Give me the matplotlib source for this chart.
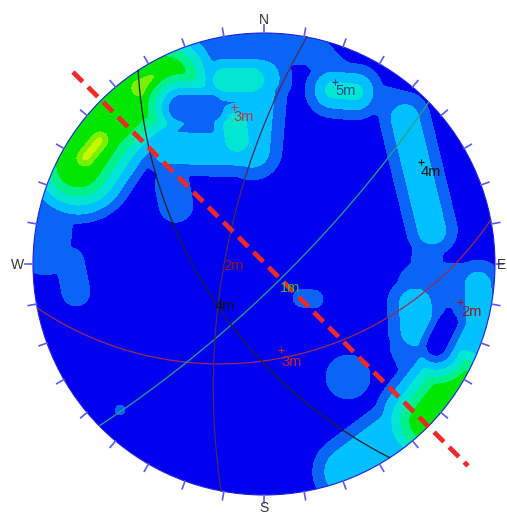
import numpy as np
import matplotlib
matplotlib.use("Agg")
import matplotlib.pyplot as plt
from matplotlib.patches import Circle

# pole-density ridges read off the net (x = east, y = north, primitive radius = 1)
# segment start / end, reach of the lowest contour, spacing between contours, top level
ridge_x1 = [-0.803, -0.697, -0.585, -0.775, -0.537, -0.926, -0.840, -0.364,
            -0.385, -0.026, -0.416, -0.169, -0.126, -0.398,
            0.177, 0.286, 0.459, 0.632, 0.697, 0.719, 0.299, 0.610,
            0.675, 0.632, 0.632, 0.654, 0.926,
            0.899, 0.764, 0.831, 0.351, 0.364, 0.165, -0.623]
ridge_y1 = [0.427, 0.585, 0.697, 0.459, 0.762, 0.320, 0.009, 0.926,
            0.797, 0.797, 0.502, 0.797, 0.602, 0.342,
            0.970, 0.848, 0.719, 0.675, 0.450, 0.147, 0.753, 0.630,
            -0.091, -0.286, -0.351, -0.177, -0.091,
            -0.363, -0.597, -0.519, -0.857, -0.489, -0.147, -0.632]
ridge_x2 = [-0.697, -0.585, -0.427, -0.710, -0.429, -0.948, -0.814, 0.177,
            -0.009, -0.052, -0.061, -0.052, -0.117, -0.381,
            0.286, 0.459, 0.632, 0.697, 0.719, 0.697, 0.394, 0.727,
            0.935, 0.935, 0.719, 0.662, 0.935,
            0.764, 0.363, 0.705, 0.567, 0.364, 0.216, -0.623]
ridge_y2 = [0.585, 0.697, 0.803, 0.537, 0.805, 0.061, -0.121, 0.961,
            0.805, 0.494, 0.494, 0.797, 0.537, 0.255,
            0.848, 0.719, 0.675, 0.450, 0.147, -0.048, 0.745, 0.147,
            -0.091, -0.307, -0.545, -0.286, -0.286,
            -0.597, -0.899, -0.681, -0.892, -0.489, -0.152, -0.632]
ridge_reach = [0.25, 0.25, 0.25, 0.145, 0.145, 0.108, 0.061, 0.095,
               0.13, 0.13, 0.117, 0.13, 0.13, 0.074,
               0.065, 0.065, 0.065, 0.065, 0.065, 0.065, 0.121, 0.11,
               0.095, 0.095, 0.087, 0.121, 0.108,
               0.152, 0.152, 0.23, 0.078, 0.095, 0.039, 0.022]
ridge_step = [0.039, 0.039, 0.039, 0.022, 0.022, 0.05, 0.05, 0.05,
              0.055, 0.055, 0.05, 0.04, 0.04, 0.05,
              0.05, 0.05, 0.05, 0.05, 0.05, 0.05, 0.043, 0.05,
              0.05, 0.05, 0.05, 0.052, 0.052,
              0.052, 0.052, 0.039, 0.05, 0.05, 0.05, 0.05]
ridge_top = [5.6, 5.6, 5.6, 7.5, 7.5, 1.5, 1.5, 1.5,
             2.5, 2.5, 2.5, 3.3, 3.3, 1.5,
             1.5, 1.5, 1.5, 1.5, 1.5, 1.5, 3.15, 2.5,
             1.5, 1.5, 1.5, 2.5, 2.6,
             2.5, 2.5, 5.5, 1.5, 1.5, 1.5, 1.5]

# low-density pockets: segment, radius, highest level inside
hole_x1 = [-0.355, 0.797]
hole_y1 = [0.675, -0.251]
hole_x2 = [-0.234, 0.745]
hole_y2 = [0.675, -0.355]
hole_r = [0.045, 0.03]
hole_cap = [1.5, 0.5]

# planes drawn as great circles (dip direction, dip)
plane_dipdir = [169, 135.5, 280.7, 237]
plane_dip = [45, 79, 70.7, 60]
plane_colors = ["#9a2a5a", "#2aa08a", "#4a2a5a", "#202030"]

# labels on the net
label_text = ["3m", "5m", "4m", "2m", "4m", "1m", "3m", "2m"]
label_x = [-0.087, 0.355, 0.723, -0.134, -0.169, 0.113, 0.121, 0.896]
label_y = [0.636, 0.749, 0.398, -0.009, -0.182, -0.104, -0.424, -0.208]
label_colors = ["#b03848", "#2848a0", "#101010", "#8b1a1a", "#101010", "#30c030", "#d02030", "#8b2020"]
pole_x = [-0.13, 0.307, 0.68, 0.074, 0.848]
pole_y = [0.68, 0.788, 0.442, -0.372, -0.165]
pole_colors = ["#b03848", "#2848a0", "#101010", "#d02030", "#8b2020"]

# trace line
trace_x = [-0.827, 0.883]
trace_y = [0.831, -0.874]

level_colors = ["#0000f0", "#0a64f5", "#00c0ff", "#00e6d2", "#00f08c", "#00e600", "#78f000", "#c8f500"]


def seg_dist(X, Y, x1, y1, x2, y2):
    dx, dy = x2 - x1, y2 - y1
    L2 = dx * dx + dy * dy
    t = np.clip(((X - x1) * dx + (Y - y1) * dy) / L2, 0, 1) if L2 > 0 else 0
    return np.hypot(X - (x1 + t * dx), Y - (y1 + t * dy))


# density grid
n = 520
g = np.linspace(-1.03, 1.03, n)
X, Y = np.meshgrid(g, g)
dens = np.zeros_like(X)
for i in range(len(ridge_x1)):
    d = seg_dist(X, Y, ridge_x1[i], ridge_y1[i], ridge_x2[i], ridge_y2[i])
    val = np.clip(1 + (ridge_reach[i] - d) / ridge_step[i], 0, ridge_top[i])
    dens = np.maximum(dens, val)
for i in range(len(hole_x1)):
    d = seg_dist(X, Y, hole_x1[i], hole_y1[i], hole_x2[i], hole_y2[i])
    dens = np.minimum(dens, hole_cap[i] + np.maximum(d - hole_r[i], 0) / 0.03)

# light smoothing
sig = 2.0 / 231 / (g[1] - g[0])
k = np.arange(-int(4 * sig), int(4 * sig) + 1)
kern = np.exp(-0.5 * (k / sig) ** 2)
kern /= kern.sum()
dens = np.apply_along_axis(lambda r: np.convolve(r, kern, mode="same"), 1, dens)
dens = np.apply_along_axis(lambda r: np.convolve(r, kern, mode="same"), 0, dens)

fig = plt.figure(figsize=(5.07, 5.15), dpi=100)
ax = fig.add_axes([0, 0, 1, 1])
ax.set_xlim(-264 / 231, 243 / 231)
ax.set_ylim(-251 / 231, 264 / 231)
ax.set_aspect("equal")
ax.axis("off")

clip = Circle((0, 0), 1.0, transform=ax.transData)
cf = ax.contourf(X, Y, dens, levels=[-1, 1, 2, 3, 4, 5, 6, 7, 100], colors=level_colors)
cf.set_clip_path(clip)

# great circles (lower hemisphere, equal angle)
for dd, dip, col in zip(plane_dipdir, plane_dip, plane_colors):
    rk = np.radians(np.linspace(0, 180, 181))
    ddr, dpr = np.radians(dd), np.radians(dip)
    s = np.array([np.sin(ddr - np.pi / 2), np.cos(ddr - np.pi / 2), 0.0])
    dv = np.array([np.sin(ddr) * np.cos(dpr), np.cos(ddr) * np.cos(dpr), np.sin(dpr)])
    v = np.outer(np.cos(rk), s) + np.outer(np.sin(rk), dv)
    plunge = np.arcsin(np.clip(v[:, 2], -1, 1))
    trend = np.arctan2(v[:, 0], v[:, 1])
    r = np.tan((np.pi / 2 - plunge) / 2)
    ax.plot(r * np.sin(trend), r * np.cos(trend), color=col, lw=0.9)

# primitive and ticks every 10 degrees
ax.add_patch(Circle((0, 0), 1.0, fill=False, ec="#2020e0", lw=0.8))
for az in np.radians(np.arange(0, 360, 10)):
    ax.plot([np.sin(az), 1.036 * np.sin(az)], [np.cos(az), 1.036 * np.cos(az)], color="#5a5aee", lw=1.2)

ax.plot(trace_x, trace_y, color="#f02828", lw=3.4, linestyle=(0, (2.9, 1.6)))

for t, x, y, c in zip(label_text, label_x, label_y, label_colors):
    ax.text(x, y, t, color=c, fontsize=10.5, family="Liberation Sans", ha="center", va="center")
for x, y, c in zip(pole_x, pole_y, pole_colors):
    ax.plot(x, y, "+", color=c, ms=5, mew=0.8)

for t, x, y in [("N", 0, 1.056), ("S", 0, -1.055), ("W", -1.069, -0.004), ("E", 1.028, -0.004)]:
    ax.text(x, y, t, color="#333333", fontsize=10, family="Liberation Sans", ha="center", va="center")

fig.savefig("out.png", dpi=100)
